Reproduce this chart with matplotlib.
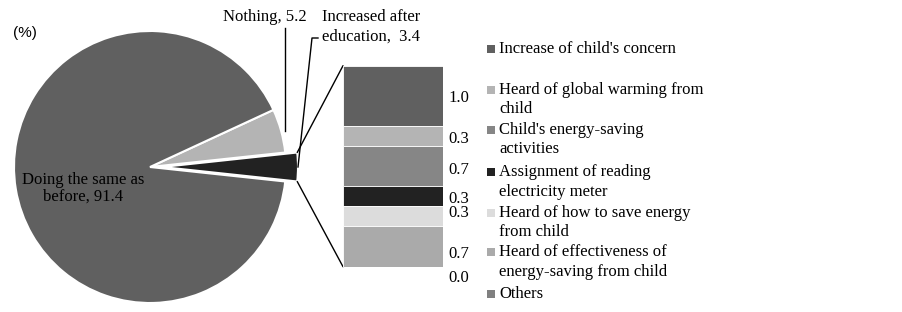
import numpy as np
import matplotlib; matplotlib.use("Agg"); import matplotlib.pyplot as plt
from matplotlib.patches import ConnectionPatch

# pie: increased after education / nothing / doing the same
pie_vals = [3.4, 5.2, 91.4]
pie_cols = ['#222222', '#b4b4b4', '#606060']
# breakdown of "increased after education" (%), top to bottom
bar_names = ["Increase of child's concern",
             "Heard of global warming from\nchild",
             "Child's energy-saving\nactivities",
             "Assignment of reading\nelectricity meter",
             "Heard of how to save energy\nfrom child",
             "Heard of effectiveness of\nenergy-saving from child",
             "Others"]
bar_vals = [1.0, 0.33, 0.67, 0.33, 0.33, 0.67, 0.0]
bar_cols = ['#606060', '#b4b4b4', '#868686', '#222222', '#dcdcdc', '#aaaaaa', '#808080']

W, H = 903, 312
plt.rcParams['font.family'] = ['Liberation Serif', 'DejaVu Serif']
FS = 12
fig = plt.figure(figsize=(W/100, H/100), dpi=100)

# whole-figure axes in pixel units for the pie
ax = fig.add_axes([0, 0, 1, 1]); ax.set_xlim(0, W); ax.set_ylim(0, H); ax.axis('off')
cx, cy, R = 150, 145, 136
start = -pie_vals[0]/sum(pie_vals)*360/2
# explode is in data units here (pixels)
wedges, _ = ax.pie(pie_vals, colors=pie_cols, startangle=start, center=(cx, cy), radius=R,
                   explode=[12, 0, 0], wedgeprops=dict(edgecolor='white', linewidth=1.5))
ax.set_xlim(0, W); ax.set_ylim(0, H); ax.set_aspect('equal')

# bar of the exploded slice
bax = fig.add_axes([343/W, 45.3/H, 100/W, 201/H])
total = sum(bar_vals)
bottoms = total - np.cumsum(bar_vals)
bax.bar(0, bar_vals, bottom=bottoms, width=1.0, color=bar_cols, edgecolor='white', linewidth=0.6)
bax.set_xlim(-0.5, 0.5); bax.set_ylim(0, total); bax.axis('off')
offs = [-2.5, -2.5, -3.5, -2.5, 3.0, -7.5, -11.5]   # px nudges so labels do not collide
for v, b, o in zip(bar_vals, bottoms, offs):
    bax.annotate(f"{v:.1f}", (0.5, b + v/2), xytext=(4, o*0.72), textcoords='offset points',
                 ha='left', va='center', fontsize=FS, annotation_clip=False)

# connector lines from black slice to bar
w = wedges[0]
t1, t2 = np.deg2rad(w.theta1), np.deg2rad(w.theta2)
wx, wy = w.center
ax.add_artist(ConnectionPatch((wx + R*np.cos(t2), wy + R*np.sin(t2)), (-0.5, total), 'data', 'data',
                              axesA=ax, axesB=bax, color='black', lw=1))
ax.add_artist(ConnectionPatch((wx + R*np.cos(t1), wy + R*np.sin(t1)), (-0.5, 0), 'data', 'data',
                              axesA=ax, axesB=bax, color='black', lw=1))

# slice labels
tm = np.deg2rad(wedges[1].theta1 + wedges[1].theta2)/2
ax.plot([285, 285], [284, cy + R*np.sin(tm)], color='black', lw=1)
ax.text(307, 295, f"Nothing, {pie_vals[1]}", ha='right', va='center', fontsize=FS)
ax.plot([318, 312, wx + R], [274, 274, wy], color='black', lw=1)
ax.text(322, 295, f"Increased after", ha='left', va='center', fontsize=FS)
ax.text(322, 275, f"education,  {pie_vals[0]}", ha='left', va='center', fontsize=FS)
ax.text(83, 124, f"Doing the same as\nbefore, {pie_vals[2]}", ha='center', va='center',
        fontsize=FS, linespacing=1.05)
ax.text(13, 279, "(%)", ha='left', va='center', fontsize=11, family='Liberation Sans')

# legend
ly = [49, 90, 130, 172, 213, 252, 294]
for name, c, y in zip(bar_names, bar_cols, ly):
    ax.scatter([491.5], [H - y], marker='s', s=30, color=c, linewidths=0)
    for i, line in enumerate(name.split('\n')):
        ax.text(499, H - y - i*19.5, line, ha='left', va='center', fontsize=FS)

fig.savefig("out.png", dpi=100)
